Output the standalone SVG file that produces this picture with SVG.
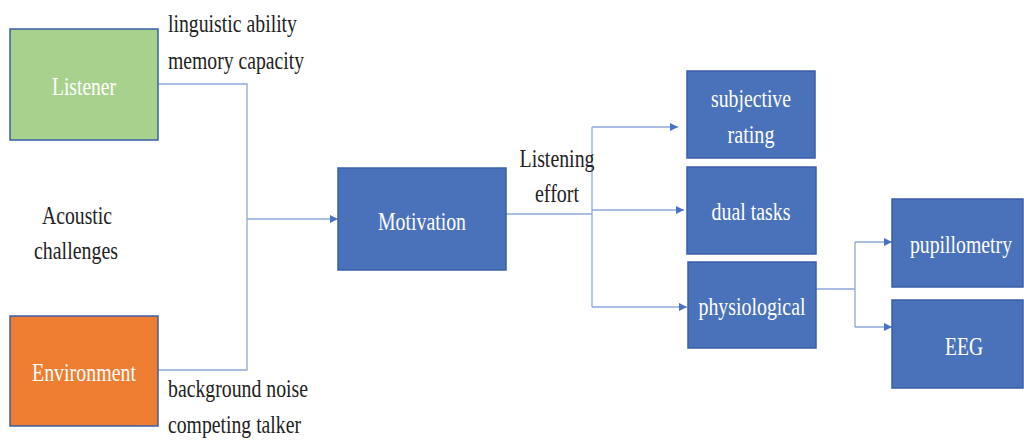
<svg xmlns="http://www.w3.org/2000/svg" width="1024" height="441" viewBox="0 0 1024 441">
<style>
.box{stroke:#3b5fa8;stroke-width:1.5}
.blue{fill:#4a72ba}
text{font-family:"Liberation Serif","DejaVu Serif","Times New Roman",serif;font-size:26px}
.w{fill:#ffffff;text-anchor:middle}
.k{fill:#222222}
.c{fill:none;stroke:#8ea8dc;stroke-width:1.3}
</style>
<defs>
<marker id="ah" viewBox="0 0 10 10" refX="10" refY="5" markerWidth="8" markerHeight="8" markerUnits="userSpaceOnUse" orient="auto">
<path d="M0,0 L10,5 L0,10 z" fill="#4a72c4"/>
</marker>
</defs>
<rect width="1024" height="441" fill="#ffffff"/>
<g id="connectors">
<polyline class="c" points="158,84 247,84 247,370 158,370"/>
<line class="c" x1="247" y1="219" x2="338" y2="219" marker-end="url(#ah)"/>
<polyline class="c" points="506,214 592,214"/>
<line class="c" x1="592" y1="127" x2="592" y2="307"/>
<line class="c" x1="592" y1="127" x2="678" y2="127" marker-end="url(#ah)"/>
<line class="c" x1="592" y1="210" x2="684" y2="210" marker-end="url(#ah)"/>
<line class="c" x1="592" y1="307" x2="687" y2="307" marker-end="url(#ah)"/>
<polyline class="c" points="816,289 855,289"/>
<line class="c" x1="855" y1="242" x2="855" y2="327"/>
<line class="c" x1="855" y1="242" x2="892" y2="242" marker-end="url(#ah)"/>
<line class="c" x1="855" y1="327" x2="892" y2="327" marker-end="url(#ah)"/>
</g>
<g id="listener">
<rect class="box" x="10" y="29" width="148" height="111" fill="#a9d18e"/>
<text class="w" x="84" y="95" textLength="64" lengthAdjust="spacingAndGlyphs">Listener</text>
</g>
<g id="listener-factors">
<text class="k" x="168" y="32" textLength="129" lengthAdjust="spacingAndGlyphs">linguistic ability</text>
<text class="k" x="168" y="69" textLength="136" lengthAdjust="spacingAndGlyphs">memory capacity</text>
</g>
<g id="acoustic">
<text class="k" x="77" y="224" text-anchor="middle" textLength="70" lengthAdjust="spacingAndGlyphs">Acoustic</text>
<text class="k" x="76" y="259" text-anchor="middle" textLength="84" lengthAdjust="spacingAndGlyphs">challenges</text>
</g>
<g id="environment">
<rect class="box" x="10" y="316" width="148" height="110" fill="#ed7d31"/>
<text class="w" x="84" y="381" textLength="104" lengthAdjust="spacingAndGlyphs">Environment</text>
</g>
<g id="environment-factors">
<text class="k" x="168" y="397" textLength="140" lengthAdjust="spacingAndGlyphs">background noise</text>
<text class="k" x="168" y="433" textLength="133" lengthAdjust="spacingAndGlyphs">competing talker</text>
</g>
<g id="motivation">
<rect class="box blue" x="338" y="168" width="168" height="102"/>
<text class="w" x="422" y="230" textLength="88" lengthAdjust="spacingAndGlyphs">Motivation</text>
</g>
<g id="listening-effort">
<text class="k" x="557" y="167" text-anchor="middle" textLength="75" lengthAdjust="spacingAndGlyphs">Listening</text>
<text class="k" x="557" y="202" text-anchor="middle" textLength="44" lengthAdjust="spacingAndGlyphs">effort</text>
</g>
<g id="subjective">
<rect class="box blue" x="687" y="71" width="128" height="87"/>
<text class="w" x="751" y="107" textLength="80" lengthAdjust="spacingAndGlyphs">subjective</text>
<text class="w" x="751" y="143" textLength="47" lengthAdjust="spacingAndGlyphs">rating</text>
</g>
<g id="dual">
<rect class="box blue" x="687" y="167" width="129" height="87"/>
<text class="w" x="751" y="220" textLength="79" lengthAdjust="spacingAndGlyphs">dual tasks</text>
</g>
<g id="physiological">
<rect class="box blue" x="688" y="262" width="128" height="86"/>
<text class="w" x="752" y="315" textLength="107" lengthAdjust="spacingAndGlyphs">physiological</text>
</g>
<g id="pupillometry">
<rect class="box blue" x="892" y="199" width="131" height="88"/>
<text class="w" transform="translate(961,253) scale(0.76,1)" x="0" y="0">pupillometry</text>
</g>
<g id="eeg">
<rect class="box blue" x="892" y="300" width="131" height="88"/>
<text class="w" x="964" y="355" textLength="38" lengthAdjust="spacingAndGlyphs">EEG</text>
</g>
</svg>
